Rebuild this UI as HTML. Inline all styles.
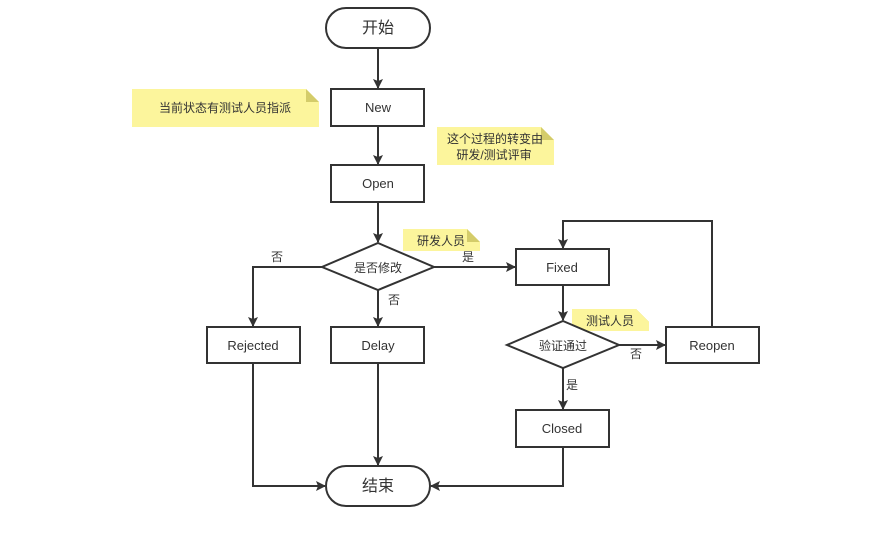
<!DOCTYPE html>
<html><head><meta charset="utf-8"><style>
body{margin:0;background:#fff}
svg text{font-family:"Liberation Sans","Noto Sans CJK SC",sans-serif;fill:#333}
</style></head><body>
<svg width="869" height="529" viewBox="0 0 869 529" xmlns="http://www.w3.org/2000/svg">
<defs><marker id="a" markerWidth="10" markerHeight="10" refX="9" refY="5" orient="auto" markerUnits="userSpaceOnUse"><path d="M0,0 L10,5 L0,10 L2,5 Z" fill="#333"/></marker></defs>
<!-- notes -->
<g fill="#fcf59c">
<path d="M132,89 H306 L319,102 V127 H132 Z"/>
<path d="M437,127 H541 L554,140 V165 H437 Z"/>
<path d="M403,229 H467 L480,242 V251 H403 Z"/>
<path d="M572,309 H636 L649,322 V331 H572 Z"/>
</g>
<g fill="#d4cc6a">
<path d="M306,89 L319,102 H306 Z"/><path d="M541,127 L554,140 H541 Z"/><path d="M467,229 L480,242 H467 Z"/><path d="M636,309 L649,322 H636 Z"/>
</g>
<g stroke="#333" stroke-width="2" fill="none" marker-end="url(#a)">
<path d="M378,48 V88"/><path d="M378,126 V164"/><path d="M378,202 V242"/>
<path d="M378,290 V326"/><path d="M322,267 H253 V326"/>
<path d="M434,267 H515"/><path d="M563,285 V320"/>
<path d="M619,345 H665"/><path d="M563,368 V409"/>
<path d="M712,327 V221 H563 V248"/>
<path d="M378,363 V465"/><path d="M253,363 V486 H325"/>
<path d="M563,447 V486 H431"/>
</g>
<g stroke="#333" stroke-width="2" fill="#fff">
<rect x="326" y="8" width="104" height="40" rx="20"/>
<rect x="326" y="466" width="104" height="40" rx="20"/>
<rect x="331" y="89" width="93" height="37"/>
<rect x="331" y="165" width="93" height="37"/>
<rect x="207" y="327" width="93" height="36"/>
<rect x="331" y="327" width="93" height="36"/>
<rect x="516" y="249" width="93" height="36"/>
<rect x="666" y="327" width="93" height="36"/>
<rect x="516" y="410" width="93" height="37"/>
<path d="M378,243 L434,267 L378,290 L322,267 Z"/>
<path d="M563,321 L619,345 L563,368 L507,345 Z"/>
</g>
<path d="M572,309 H636 L649,322 V331 H599 L590,327 Z" fill="#fcf59c"/>
<g font-size="13" text-anchor="middle">
<text x="378" y="33" font-size="16">开始</text>
<text x="378" y="491" font-size="16">结束</text>
<text x="378" y="112">New</text>
<text x="378" y="188">Open</text>
<text x="253" y="350">Rejected</text>
<text x="378" y="350">Delay</text>
<text x="562" y="272">Fixed</text>
<text x="712" y="350">Reopen</text>
<text x="562" y="433">Closed</text>
<text x="378" y="272" font-size="12">是否修改</text>
<text x="563" y="350" font-size="12">验证通过</text>
<text x="225" y="112" font-size="12">当前状态有测试人员指派</text>
<text x="495" y="143" font-size="12">这个过程的转变由</text>
<text x="494" y="159" font-size="12">研发/测试评审</text>
<text x="441" y="245" font-size="12">研发人员</text>
<text x="610" y="325" font-size="12">测试人员</text>
<text x="277" y="261" font-size="12">否</text>
<text x="468" y="261" font-size="12">是</text>
<text x="394" y="304" font-size="12">否</text>
<text x="636" y="358" font-size="12">否</text>
<text x="572" y="389" font-size="12">是</text>
</g>
</svg>
</body></html>
